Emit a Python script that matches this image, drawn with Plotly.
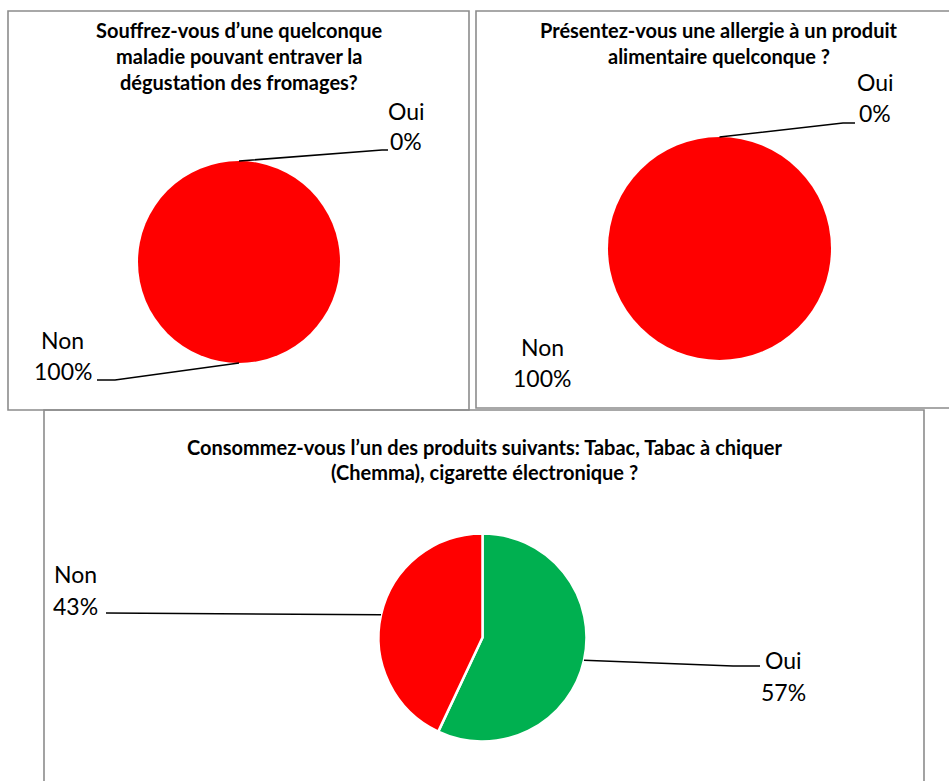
import math
import plotly.graph_objects as go

# ---------------- data ----------------
slice_labels = ["Oui", "Non"]
q1_values = [0, 100]     # Souffrez-vous ... maladie
q2_values = [0, 100]     # allergie
q3_values = [57, 43]     # Tabac / Chemma / cigarette
slice_colors = ["#00B050", "#FF0000"]

q1_title = ["Souffrez-vous d\u2019une quelconque", "maladie pouvant entraver la", "dégustation des fromages?"]
q2_title = ["Présentez-vous une allergie à un produit", "alimentaire quelconque ?"]
q3_title = ["Consommez-vous l\u2019un des produits suivants: Tabac, Tabac à chiquer",
            "(Chemma), cigarette électronique ?"]

# ---------------- layout helpers (pixels) ----------------
W, H = 949, 781
FONT = "Lato, Carlito, Calibri, sans-serif"


def px(x):
    return x / W


def py(y):
    return 1 - y / H


charts = [
    dict(values=q1_values, title=q1_title, cx=239, cy=262, r=101, line_w=0,
         title_x=239, title_y=[30, 56, 82],
         labels={0: dict(x=406, y=[111, 141], leader=[(382, 150), (388, 150)]),
                 1: dict(x=63, y=[340, 371], leader=[(115, 380), (97, 380)])},
         box=(8, 11, 469, 410)),
    dict(values=q2_values, title=q2_title, cx=719.5, cy=248.5, r=111.5, line_w=0,
         title_x=719, title_y=[30, 56],
         labels={0: dict(x=875, y=[82, 113], leader=[(843, 123), (855, 123)]),
                 1: dict(x=542, y=[347, 378], leader=None)},
         box=(476, 11, 952, 408)),
    dict(values=q3_values, title=q3_title, cx=482.5, cy=637.5, r=104, line_w=2.5,
         title_x=484, title_y=[447, 472],
         labels={0: dict(x=783, y=[660, 692], leader=[(733, 666), (760, 666)]),
                 1: dict(x=75, y=[574, 606], leader=[(106, 613)])},
         box=(44, 410, 924, 795)),
]

fig = go.Figure()
shapes = []
annotations = []

for c in charts:
    vals = c["values"]
    total = float(sum(vals))
    fig.add_trace(go.Pie(
        labels=slice_labels, values=vals, sort=False, direction="clockwise", rotation=0,
        marker=dict(colors=slice_colors, line=dict(color="white", width=c["line_w"])),
        textinfo="none", hoverinfo="label+percent", showlegend=False,
        domain=dict(x=[px(c["cx"] - c["r"]), px(c["cx"] + c["r"])],
                    y=[py(c["cy"] + c["r"]), py(c["cy"] - c["r"])]),
    ))
    # box
    x0, y0, x1, y1 = c["box"]
    shapes.append(dict(type="rect", xref="paper", yref="paper",
                       x0=px(x0), x1=px(x1), y0=py(y1), y1=py(y0),
                       line=dict(color="#8C8C8C", width=1.6), fillcolor="rgba(0,0,0,0)", layer="below"))
    # title lines
    for line, ty in zip(c["title"], c["title_y"]):
        annotations.append(dict(x=px(c["title_x"]), y=py(ty), xref="paper", yref="paper",
                                text="<b>%s</b>" % line, showarrow=False,
                                xanchor="center", yanchor="middle",
                                font=dict(family=FONT, size=20, color="#000000")))
    # labels and leader lines
    cum = 0.0
    for i, v in enumerate(vals):
        frac = (cum + v / 2.0) / total
        cum += v
        lab = c["labels"][i]
        pct = "%d%%" % round(100 * v / total)
        for txt, ly in zip([slice_labels[i], pct], lab["y"]):
            annotations.append(dict(x=px(lab["x"]), y=py(ly), xref="paper", yref="paper",
                                    text=txt, showarrow=False, xanchor="center", yanchor="middle",
                                    font=dict(family=FONT, size=23, color="#000000")))
        if lab["leader"]:
            th = 2 * math.pi * frac
            sx = c["cx"] + c["r"] * math.sin(th)
            sy = c["cy"] - c["r"] * math.cos(th)
            pts = [(sx, sy)] + lab["leader"]
            path = "M " + " L ".join("%f,%f" % (px(a), py(b)) for a, b in pts)
            shapes.append(dict(type="path", xref="paper", yref="paper", path=path,
                               line=dict(color="#000000", width=1.6)))

fig.update_layout(
    width=W, height=H, margin=dict(l=0, r=0, t=0, b=0),
    paper_bgcolor="white", plot_bgcolor="white",
    shapes=shapes, annotations=annotations,
)

fig.write_html("out.html")
